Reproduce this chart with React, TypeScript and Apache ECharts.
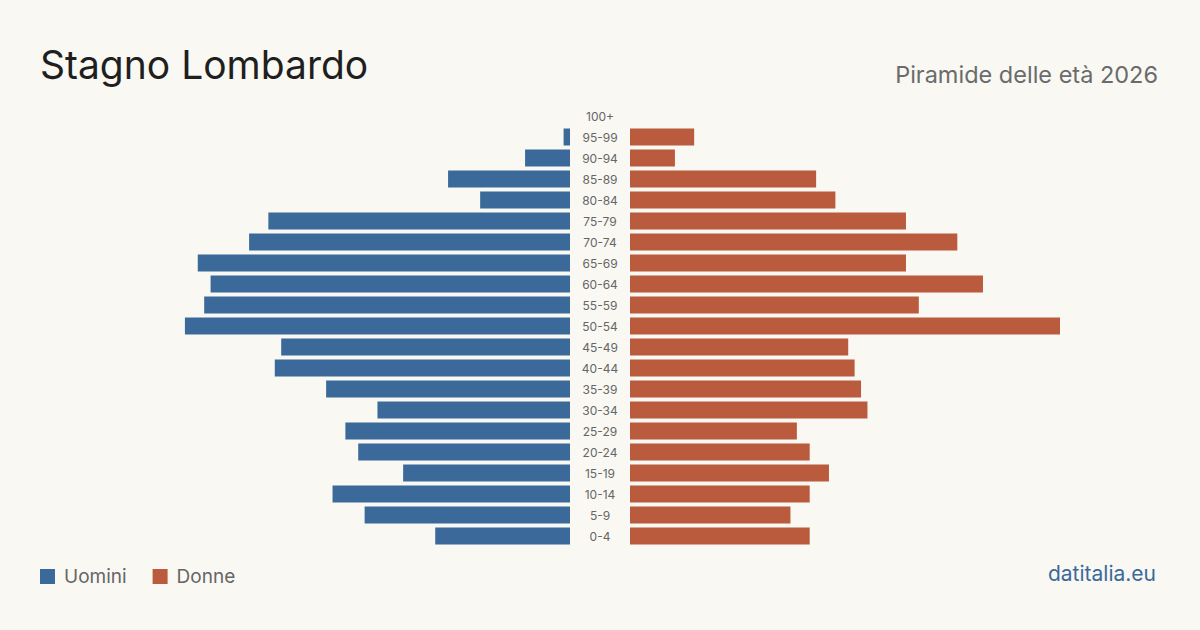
import React, { useEffect, useRef } from "react";
import * as echarts from "echarts";

// Age classes, youngest first (category axis grows from the bottom)
const ageGroups = [
  "0-4", "5-9", "10-14", "15-19", "20-24", "25-29", "30-34", "35-39", "40-44",
  "45-49", "50-54", "55-59", "60-64", "65-69", "70-74", "75-79", "80-84",
  "85-89", "90-94", "95-99", "100+",
];
const men = [21, 32, 37, 26, 33, 35, 30, 38, 46, 45, 60, 57, 56, 58, 50, 47, 14, 19, 7, 1, 0];
const women = [28, 25, 28, 31, 28, 26, 37, 36, 35, 34, 67, 45, 55, 43, 51, 43, 32, 29, 7, 10, 0];

const MEN_COLOR = "#3b6a9a";
const WOMEN_COLOR = "#b95b3c";
const BG = "#f9f8f3";
const FONT = "Inter, 'Noto Sans', sans-serif";

export default function App() {
  const ref = useRef<HTMLDivElement>(null);

  useEffect(() => {
    if (!ref.current) return;
    const chart = echarts.init(ref.current, undefined, { renderer: "svg" });
    const maxVal = Math.max(...men, ...women);
    chart.setOption({
      animation: false,
      backgroundColor: BG,
      textStyle: { fontFamily: FONT },
      grid: [
        { left: 140, width: 430, top: 105.5, height: 441 },
        { left: 630, width: 430, top: 105.5, height: 441 },
      ],
      xAxis: [
        { gridIndex: 0, type: "value", min: 0, max: maxVal, inverse: true, show: false },
        { gridIndex: 1, type: "value", min: 0, max: maxVal, show: false },
      ],
      yAxis: [
        { gridIndex: 0, type: "category", data: ageGroups, show: false },
        {
          gridIndex: 1,
          type: "category",
          data: ageGroups,
          axisLine: { show: false },
          axisTick: { show: false },
          axisLabel: {
            margin: 30,
            align: "center",
            color: "#666666",
            fontSize: 12,
            fontFamily: FONT,
          },
        },
      ],
      legend: {
        left: 35,
        top: 562,
        itemWidth: 15,
        itemHeight: 15,
        itemGap: 26,
        icon: "rect",
        textStyle: { color: "#666666", fontSize: 19, fontFamily: FONT, padding: [0, 0, 0, 4] },
        data: ["Uomini", "Donne"],
      },
      series: [
        {
          name: "Uomini",
          type: "bar",
          xAxisIndex: 0,
          yAxisIndex: 0,
          data: men,
          barWidth: 17,
          itemStyle: { color: MEN_COLOR },
        },
        {
          name: "Donne",
          type: "bar",
          xAxisIndex: 1,
          yAxisIndex: 1,
          data: women,
          barWidth: 17,
          itemStyle: { color: WOMEN_COLOR },
        },
      ],
      graphic: [
        {
          type: "text",
          left: 40,
          top: 45,
          style: { text: "Stagno Lombardo", fill: "#1f1f1f", fontSize: 39, fontFamily: FONT },
        },
        {
          type: "text",
          right: 42,
          top: 62,
          style: { text: "Piramide delle età 2026", fill: "#6b6b6b", fontSize: 23.5, fontFamily: FONT },
        },
        {
          type: "text",
          right: 44,
          top: 563,
          style: { text: "datitalia.eu", fill: MEN_COLOR, fontSize: 21, fontFamily: FONT },
        },
      ],
    });
    return () => chart.dispose();
  }, []);

  return (
    <div style={{ position: "fixed", left: 0, top: 0, width: 1200, height: 630, background: BG }}>
      <div ref={ref} style={{ width: 1200, height: 630 }} />
    </div>
  );
}
